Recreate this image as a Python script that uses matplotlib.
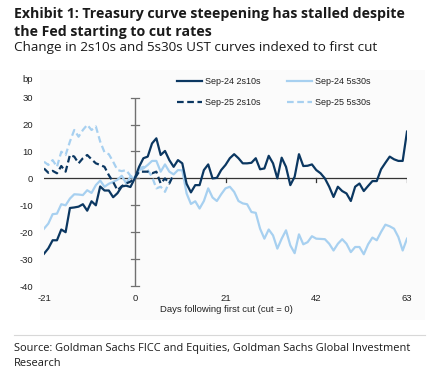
import numpy as np
import matplotlib
matplotlib.use('Agg')
import matplotlib.pyplot as plt
from matplotlib.patches import Rectangle

# days relative to first cut
days_24 = np.arange(-21, 64)
days_25 = np.arange(-21, 10)

sep24_2s10s = [-28, -26, -23, -23, -19, -20, -11, -10.8, -10.5, -9.6,
               -12, -8.5, -10, -3, -4.5, -4.5, -7, -5.5, -3, -2.7,
               -3.2, 0, 4.3, 7.5, 8.1, 13, 14.9, 8.7, 10.2, 6.8,
               4.3, 6.8, 5.6, -2, -5.2, -2.5, -2.5, 3.1, 5.2, 0,
               0.2, 3.1, 5, 7.5, 9, 7.5, 5.6, 5.6, 5.8, 7.5,
               3.4, 3.7, 8.4, 5.6, 0, 7.7, 4.3, -2.5, 0.6, 9,
               4.6, 4.7, 5.2, 3.1, 1.9, 0, -3.1, -6.9, -3.1, -4.7,
               -5.6, -8.4, -3.1, -1.9, -4.7, -2.8, -1, -1, 3.4, 5.8,
               8.1, 7.1, 6.5, 6.5, 17.4]
sep24_5s30s = [-18.7, -16.8, -13.3, -13.1, -9.6, -10, -7.5, -5.9, -6, -6.2,
               -4.4, -5.4, -2.5, -0.8, -3.1, -2, -1.3, -0.5, 1, -1.8,
               0.6, 0, 3.1, 3.7, 5, 6.5, 6.5, 2.5, 5.2, 2.5,
               1.5, 3.1, 3, -5.6, -9.5, -8.5, -11.2, -8.4, -3.7, -7.1,
               -8.4, -5.9, -3.7, -3.1, -5, -8.4, -9.3, -9.6, -12.5, -12.8,
               -18.7, -22.4, -19, -21.2, -26.1, -22.4, -19.3, -24.9, -27.8, -20.8,
               -24.5, -23.7, -21.5, -22.4, -22.5, -22.6, -24.3, -26.8, -24.3, -22.6,
               -24.3, -27.4, -25.5, -25.5, -28.2, -24.5, -22, -23, -19.9, -17.2,
               -17.8, -18.7, -21.8, -26.8, -22.4]
sep25_2s10s = [3.7, 2.1, 2.8, 1.9, 4.6, 2.5, 8.7, 8.1, 5.6, 7.5,
               8.7, 7.1, 5.6, 5, 4.3, 1.2, -1.3, -4.4, -2.9, -1.9,
               -1.2, 0, 2.5, 2.5, 2.5, 1.9, 2.5, -1.9, 0, -1.9,
               1.5]
sep25_5s30s = [6.2, 5, 6.8, 4.3, 9.9, 8.7, 13.7, 18, 15.5, 18,
               19.9, 18, 19.3, 13.7, 9.7, 9, 6.2, 3.1, 2.7, 3.1,
               1, 0, 3.7, 4.3, 3.1, 0.6, -3.7, -3.1, -5, -1.3,
               1.2]

xticks = [-21, 0, 21, 42, 63]
yticks = [-40, -30, -20, -10, 0, 10, 20, 30]

dark = '#0b3761'
light = '#a7d0f0'
axis_col = '#707070'
txt = '#222222'

plt.rcParams['font.family'] = ['Liberation Sans', 'DejaVu Sans']
plt.rcParams['axes.unicode_minus'] = False

W, H = 436, 374
fig = plt.figure(figsize=(W / 100, H / 100), dpi=100)
fig.patch.set_facecolor('white')

# faint chart panel background
fig.patches.append(Rectangle((40 / W, 1 - 320 / H), 385 / W, 250 / H,
                             transform=fig.transFigure, facecolor='#fbfbfb',
                             edgecolor='none', zorder=-5))

ax = fig.add_axes([44 / W, 1 - 286 / H, 363 / W, 188.3 / H])
ax.set_facecolor('none')
ax.set_xlim(-21, 63)
ax.set_ylim(-40, 30)
for s in ax.spines.values():
    s.set_visible(False)

# axis lines drawn at zero
ax.axhline(0, color='#333333', lw=0.9, zorder=1)
ax.axvline(0, color=axis_col, lw=1.0, zorder=1)
for y in yticks:
    ax.plot([-0.9, 0.9], [y, y], color=axis_col, lw=0.9, zorder=1, clip_on=False)
for x in xticks[2:]:
    ax.plot([x, x], [0, -1.3], color='#333333', lw=0.9, zorder=1)

ax.plot(days_24, sep24_5s30s, color=light, lw=1.6, label='Sep-24 5s30s', zorder=3)
ax.plot(days_24, sep24_2s10s, color=dark, lw=1.6, label='Sep-24 2s10s', zorder=4)
ax.plot(days_25, sep25_5s30s, color=light, lw=1.6, ls=(0, (3, 1.6)), label='Sep-25 5s30s', zorder=3)
ax.plot(days_25, sep25_2s10s, color=dark, lw=1.6, ls=(0, (3, 1.6)), label='Sep-25 2s10s', zorder=4)

ax.set_xticks(xticks)
ax.set_yticks(yticks)
ax.tick_params(length=0, labelsize=6.8, colors=txt)
ax.tick_params(axis='y', pad=8)
ax.tick_params(axis='x', pad=6)

# legend fills column by column
handles, labels = ax.get_legend_handles_labels()
order = [1, 3, 0, 2]
fig.legend([handles[i] for i in order], [labels[i] for i in order], ncol=2,
           loc='upper left', bbox_to_anchor=(177 / W, 1 - 77 / H), frameon=False,
           fontsize=6.5, handlelength=2.8, handletextpad=0.33, columnspacing=2.9,
           labelspacing=1.35, borderaxespad=0.0, borderpad=0.0, labelcolor=txt)

fig.text(22 / W, 1 - 80 / H, 'bp', fontsize=6.8, color=txt, va='center')
fig.text(226 / W, 1 - 310 / H, 'Days following first cut (cut = 0)',
         fontsize=6.8, color=txt, ha='center', va='center')

fig.text(14 / W, 1 - 14 / H, 'Exhibit 1: Treasury curve steepening has stalled despite',
         fontsize=10.2, fontweight='bold', family='Open Sans', color='#1a1a1a', va='center')
fig.text(14 / W, 1 - 32 / H, 'the Fed starting to cut rates',
         fontsize=10.2, fontweight='bold', family='Open Sans', color='#1a1a1a', va='center')
fig.text(14 / W, 1 - 48 / H, 'Change in 2s10s and 5s30s UST curves indexed to first cut',
         fontsize=9.7, family='Open Sans', color='#1a1a1a', va='center')

fig.add_artist(plt.Line2D([14 / W, 425 / W], [1 - 335 / H, 1 - 335 / H],
                          transform=fig.transFigure, color='#d8d8d8', lw=0.8))
fig.text(14 / W, 1 - 348 / H,
         'Source: Goldman Sachs FICC and Equities, Goldman Sachs Global Investment',
         fontsize=7.9, family='Open Sans', color='#1a1a1a', va='center')
fig.text(14 / W, 1 - 363 / H, 'Research',
         fontsize=7.9, family='Open Sans', color='#1a1a1a', va='center')

fig.savefig('out.png', dpi=100)
